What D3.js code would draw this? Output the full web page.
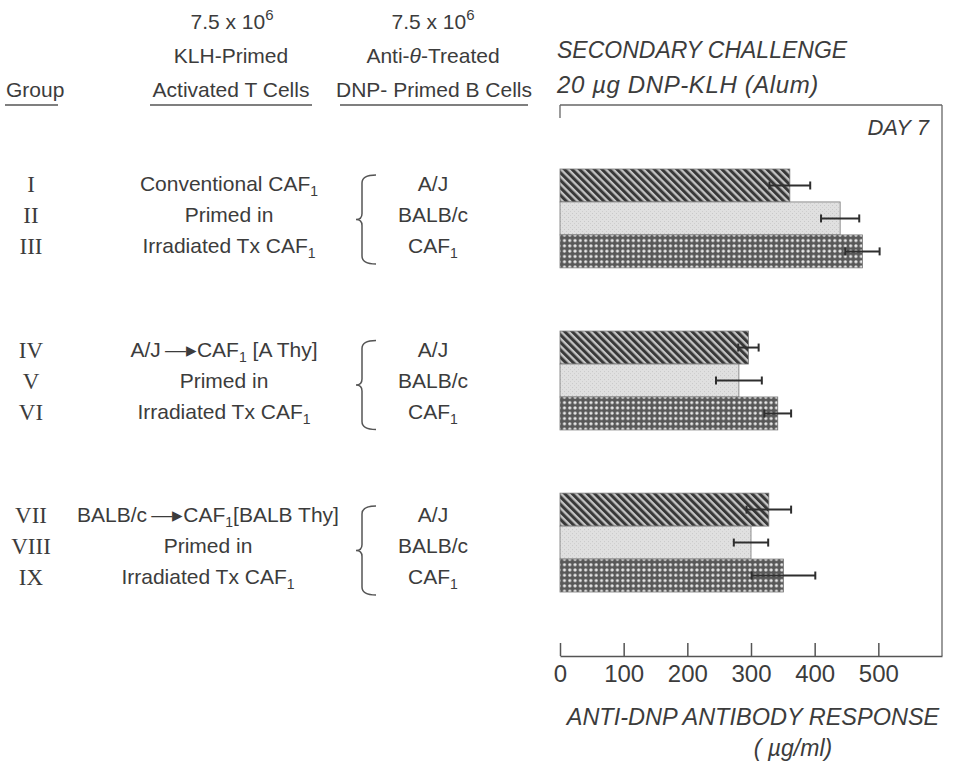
<!DOCTYPE html>
<html>
<head>
<meta charset="utf-8">
<script src="https://cdn.jsdelivr.net/npm/d3@7"></script>
<style>
  html, body { margin: 0; padding: 0; background: #fff; }
  svg text { fill: #3c3c3c; }
</style>
</head>
<body>
<svg id="chart" width="956" height="761" font-family="'Liberation Sans', Arial, sans-serif"></svg>
<script>
// Anti-DNP secondary response, day 7 (µg/ml), three groups of three B-cell donors
const groupIds   = ["G1", "G2", "G3"];
const romans     = [["I", "II", "III"], ["IV", "V", "VI"], ["VII", "VIII", "IX"]];
const bDonors    = ["A/J", "BALB/c", "CAF"];
const responses  = [[361, 440, 475], [296, 281, 342], [328, 300, 351]];
const errors     = [[32, 30, 27], [16, 36, 21], [35, 27, 50]];
const axisTicks  = [0, 100, 200, 300, 400, 500];

const svg = d3.select("#chart");
const ink = "#3c3c3c";

// ---------- fill patterns ----------
const defs = svg.append("defs");

const hatch = defs.append("pattern").attr("id", "hatch")
  .attr("patternUnits", "userSpaceOnUse").attr("width", 5.3).attr("height", 5.3)
  .attr("patternTransform", "rotate(-45)");
hatch.append("rect").attr("width", 5.3).attr("height", 5.3).attr("fill", "#c4c4c4");
hatch.append("rect").attr("width", 3.0).attr("height", 5.3).attr("fill", "#383838");

const stipple = defs.append("pattern").attr("id", "stipple")
  .attr("patternUnits", "userSpaceOnUse").attr("width", 4).attr("height", 4);
stipple.append("rect").attr("width", 4).attr("height", 4).attr("fill", "#e0e0e0");
stipple.append("rect").attr("x", 0).attr("y", 0).attr("width", 1).attr("height", 1).attr("fill", "#c8c8c8");
stipple.append("rect").attr("x", 2).attr("y", 2).attr("width", 1).attr("height", 1).attr("fill", "#cecece");

const check = defs.append("pattern").attr("id", "check")
  .attr("patternUnits", "userSpaceOnUse").attr("width", 5.3).attr("height", 5.3);
check.append("rect").attr("width", 5.3).attr("height", 5.3).attr("fill", "#585858");
check.append("circle").attr("cx", 2.65).attr("cy", 2.65).attr("r", 1.6).attr("fill", "#e8e8e8");

const fills = ["url(#hatch)", "url(#stipple)", "url(#check)"];

// ---------- scales ----------
const x = d3.scaleLinear().domain([0, 600]).range([560, 942]);
const yGroup = d3.scaleBand().domain(groupIds).range([169, 592]).paddingInner(0.39).paddingOuter(0);
const yBar = d3.scaleBand().domain([0, 1, 2]).range([0, yGroup.bandwidth()]);

// ---------- frame ----------
const frameTop = 105, frameBottom = 656;
svg.append("line").attr("x1", x(0)).attr("x2", x(600)).attr("y1", frameTop).attr("y2", frameTop)
  .attr("stroke", "#666").attr("stroke-width", 1.3);
svg.append("line").attr("x1", x(600)).attr("x2", x(600)).attr("y1", frameTop).attr("y2", frameBottom)
  .attr("stroke", "#666").attr("stroke-width", 1.3);
svg.append("line").attr("x1", x(0)).attr("x2", x(0)).attr("y1", frameTop).attr("y2", frameTop + 13)
  .attr("stroke", "#666").attr("stroke-width", 1.3);

const axis = d3.axisBottom(x).tickValues(axisTicks).tickSizeInner(-13).tickSizeOuter(0).tickPadding(9);
const ax = svg.append("g").attr("transform", `translate(0,${frameBottom})`).call(axis);
ax.attr("font-family", null).attr("font-size", null);
ax.select(".domain").attr("stroke", "#555").attr("stroke-width", 1.5);
ax.selectAll(".tick line").attr("stroke", "#555").attr("stroke-width", 1.5);
ax.selectAll(".tick text").style("font-size", "24px").style("fill", ink)
  .style("font-family", "'Liberation Sans', Arial, sans-serif");

// ---------- bars ----------
groupIds.forEach((g, gi) => {
  const gg = svg.append("g").attr("transform", `translate(0,${yGroup(g)})`);
  gg.selectAll("rect.bar").data(responses[gi]).join("rect")
    .attr("class", "bar")
    .attr("x", x(0))
    .attr("y", (d, i) => yBar(i))
    .attr("width", d => x(d) - x(0))
    .attr("height", yBar.bandwidth())
    .attr("fill", (d, i) => fills[i])
    .attr("stroke", "#777").attr("stroke-width", 0.8);

  responses[gi].forEach((v, i) => {
    const e = errors[gi][i];
    const cy = yBar(i) + yBar.bandwidth() / 2;
    gg.append("line").attr("x1", x(v - e)).attr("x2", x(v + e)).attr("y1", cy).attr("y2", cy)
      .attr("stroke", "#2e2e2e").attr("stroke-width", 2);
    [v - e, v + e].forEach(t => {
      gg.append("line").attr("x1", x(t)).attr("x2", x(t)).attr("y1", cy - 4).attr("y2", cy + 4)
        .attr("stroke", "#2e2e2e").attr("stroke-width", 2);
    });
  });
});

// ---------- titles ----------
svg.append("text").attr("x", 557).attr("y", 58).attr("font-size", 23).attr("font-style", "italic")
  .text("SECONDARY CHALLENGE");
svg.append("text").attr("x", 557).attr("y", 93).attr("font-size", 24).attr("font-style", "italic")
  .attr("letter-spacing", 0.6).text("20 \u00b5g DNP-KLH (Alum)");
svg.append("text").attr("x", 929).attr("y", 135).attr("font-size", 22).attr("font-style", "italic")
  .attr("text-anchor", "end").text("DAY  7");
svg.append("text").attr("x", 753).attr("y", 725).attr("font-size", 23.5).attr("font-style", "italic")
  .attr("text-anchor", "middle").text("ANTI-DNP ANTIBODY RESPONSE");
svg.append("text").attr("x", 793).attr("y", 756).attr("font-size", 23).attr("font-style", "italic")
  .attr("text-anchor", "middle").text("( \u00b5g/ml)");

// ---------- column headers ----------
const hdr = 21;
svg.append("text").attr("x", 6).attr("y", 97).attr("font-size", hdr).text("Group");

function tenSix(cx, cy) {
  const t = svg.append("text").attr("x", cx).attr("y", cy).attr("font-size", hdr).attr("text-anchor", "middle");
  t.append("tspan").text("7.5 x 10");
  t.append("tspan").attr("dy", -9).attr("font-size", 15).text("6");
}
tenSix(232, 29);
svg.append("text").attr("x", 231).attr("y", 63).attr("font-size", hdr).attr("text-anchor", "middle").text("KLH-Primed");
svg.append("text").attr("x", 231).attr("y", 97).attr("font-size", hdr).attr("text-anchor", "middle").text("Activated T Cells");

tenSix(433, 29);
const anti = svg.append("text").attr("x", 433).attr("y", 63).attr("font-size", hdr).attr("text-anchor", "middle");
anti.append("tspan").text("Anti-");
anti.append("tspan").attr("font-style", "italic").text("\u03b8");
anti.append("tspan").text("-Treated");
svg.append("text").attr("x", 434).attr("y", 97).attr("font-size", hdr).attr("text-anchor", "middle").text("DNP- Primed B Cells");

[[5, 58], [150, 312], [340, 528]].forEach(([a, b]) => {
  svg.append("line").attr("x1", a).attr("x2", b).attr("y1", 105).attr("y2", 105)
    .attr("stroke", "#555").attr("stroke-width", 1.5);
});

// ---------- row labels ----------
const rowY = (gi, li) => 184 + gi * 165.5 + li * 31;

const tLines = [
  [["Conventional CAF", "1"], ["Primed in"], ["Irradiated Tx CAF", "1"]],
  [["A/J\u2009\u2014\u25b8CAF", "1", " [A Thy]"], ["Primed in"], ["Irradiated Tx CAF", "1"]],
  [["BALB/c\u2009\u2014\u25b8CAF", "1", "[BALB Thy]"], ["Primed in"], ["Irradiated Tx CAF", "1"]]
];
const tCenters = [229, 224, 208];

groupIds.forEach((g, gi) => {
  romans[gi].forEach((r, li) => {
    svg.append("text").attr("x", 31).attr("y", rowY(gi, li)).attr("dy", "0.35em")
      .attr("font-size", 23).attr("text-anchor", "middle")
      .attr("font-family", "'Liberation Serif', 'DejaVu Serif', serif")
      .text(r);
  });

  tLines[gi].forEach((parts, li) => {
    const t = svg.append("text").attr("x", tCenters[gi]).attr("y", rowY(gi, li)).attr("dy", "0.35em")
      .attr("font-size", hdr).attr("text-anchor", "middle");
    t.append("tspan").text(parts[0]);
    if (parts[1]) t.append("tspan").attr("dy", 5).attr("font-size", 14).text(parts[1]);
    if (parts[2]) t.append("tspan").attr("dy", -5).text(parts[2]);
  });

  bDonors.forEach((d, li) => {
    const t = svg.append("text").attr("x", 433).attr("y", rowY(gi, li)).attr("dy", "0.35em")
      .attr("font-size", hdr).attr("text-anchor", "middle");
    t.append("tspan").text(d);
    if (d === "CAF") t.append("tspan").attr("dy", 5).attr("font-size", 14).text("1");
  });

  // curly brace joining the three B-cell donors
  const y0 = rowY(gi, 0) - 9, y2 = rowY(gi, 2) + 18, ym = (y0 + y2) / 2;
  const xr = 376, xs = 362, xp = 356;
  const p = d3.path();
  p.moveTo(xr, y0);
  p.quadraticCurveTo(xs, y0, xs, y0 + 8);
  p.lineTo(xs, ym - 6);
  p.quadraticCurveTo(xs, ym, xp, ym);
  p.quadraticCurveTo(xs, ym, xs, ym + 6);
  p.lineTo(xs, y2 - 8);
  p.quadraticCurveTo(xs, y2, xr, y2);
  svg.append("path").attr("d", p.toString()).attr("fill", "none")
    .attr("stroke", "#555").attr("stroke-width", 1.5);
});
</script>
</body>
</html>
